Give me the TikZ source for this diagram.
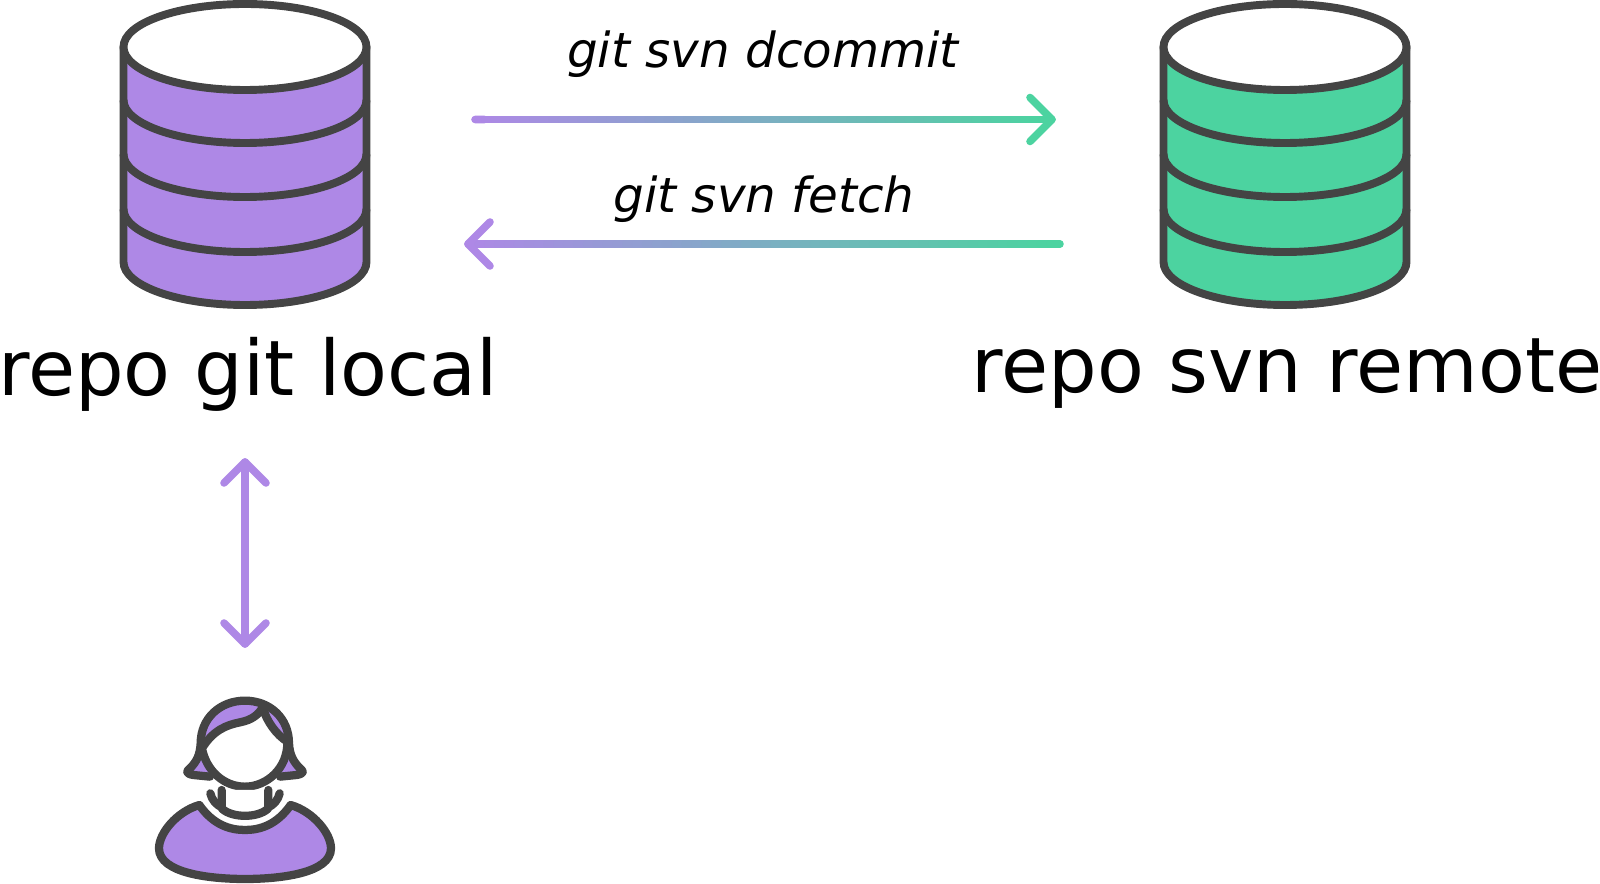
\documentclass[tikz,border=0pt]{standalone}
\usepackage{fontspec}
\setmainfont{DejaVu Sans}
\usetikzlibrary{calc}
\definecolor{dbpurple}{HTML}{AE88E6}
\definecolor{dbgreen}{HTML}{4CD3A0}
\definecolor{outline}{HTML}{444444}
\begin{document}
\begin{tikzpicture}[x=0.02cm, y=-0.02cm,
      dbline/.style={draw=outline, line width=4.5pt, line join=round},
      manline/.style={draw=outline, line width=4.7pt, line join=round, line cap=round},
      flow/.style={line width=4.3pt, line cap=round, line join=round},
      repolabel/.style={anchor=base, font=\fontsize{43.6}{44}\selectfont, inner sep=0pt},
      cmdlabel/.style={anchor=base, font=\fontsize{27.5}{27}\selectfont\itshape, inner sep=0pt}]
    \useasboundingbox (0,0) rectangle (1600,884);
    % both cylinders: x = centre of the stack, bands every 54 px
    \foreach \cx/\col in {245/dbpurple, 1285/dbgreen} {
      \begin{scope}[shift={(\cx,0)}]
        \path[dbline, fill=\col] (-121.5,47) -- (-121.5,262) arc[start angle=180, end angle=0, x radius=121.5, y radius=43] -- (121.5,47) -- cycle;
        \foreach \by in {100,154,209}
          \path[dbline] (-121.5,\by) arc[start angle=180, end angle=0, x radius=121.5, y radius=43];
        \path[dbline, fill=white] (0,47) ellipse[x radius=121.5, y radius=43];
      \end{scope}
    }
    \node[repolabel] (gitlabel) at (248,396) {repo git local};
    \node[repolabel] (svnlabel) at (1287,393) {repo svn remote};
    \node[cmdlabel] (dcommitlabel) at (763,68) {git svn dcommit};
    \node[cmdlabel] (fetchlabel) at (764,213) {git svn fetch};
    \coordinate (dcommittail) at (475,119.5);
    \coordinate (dcommittip) at (1052,119.5);
    \coordinate (fetchtip) at (468,244);
    \coordinate (fetchtail) at (1060,244);
    \coordinate (syncup) at (245,462);
    \coordinate (syncdown) at (245,644);
    % gradient shafts, purple end to green end, cut into short pieces
    \foreach \pend/\gend in {dcommittail/dcommittip, fetchtip/fetchtail} {
      \foreach \i in {0,...,59} {
        \pgfmathtruncatemacro{\mix}{100-\i*100/59}
        \draw[flow, draw=dbpurple!\mix!dbgreen] ($(\pend)!\i/60!(\gend)$) -- ($(\pend)!\i/60+1/60!(\gend)$);
      }
    }
    \draw[flow, draw=dbgreen] ($(dcommittip)+(-22,-22)$) -- (dcommittip) -- ($(dcommittip)+(-22,22)$);
    \draw[flow, draw=dbpurple] ($(fetchtip)+(22,-22)$) -- (fetchtip) -- ($(fetchtip)+(22,22)$);
    \draw[flow, draw=dbpurple] (syncup) -- (syncdown);
    \draw[flow, draw=dbpurple] ($(syncup)+(-21,21)$) -- (syncup) -- ($(syncup)+(21,21)$);
    \draw[flow, draw=dbpurple] ($(syncdown)+(-21,-21)$) -- (syncdown) -- ($(syncdown)+(21,-21)$);
    % person, traced in 3x crop units
    \begin{scope}[shift={(130,680)}, x=0.00667cm, y=-0.00667cm]
      \path[manline, fill=dbpurple] (240,290) -- (190,285) .. controls (165,281) and (170,272) .. (180,265) .. controls (200,245) and (210,225) .. (212,190) .. controls (212,115) and (270,62) .. (345,62) .. controls (420,62) and (477,115) .. (477,190) .. controls (479,225) and (490,245) .. (510,265) .. controls (520,272) and (525,281) .. (500,285) -- (450,290);
      \path[manline, fill=white] (216,205) .. controls (250,150) and (290,135) .. (330,127) .. controls (365,120) and (385,105) .. (398,82) .. controls (410,125) and (440,165) .. (472,185) .. controls (474,265) and (410,320) .. (345,320) .. controls (280,320) and (228,270) .. (216,205) -- cycle;
      \path[manline, fill=white] (275,330) -- (275,385) .. controls (305,415) and (385,415) .. (415,385) -- (415,330);
      \path[manline] (241,340) .. controls (245,360) and (260,375) .. (275,382);
      \path[manline] (449,340) .. controls (445,360) and (430,375) .. (415,382);
      \path[manline, fill=dbpurple] (208,375) .. controls (250,435) and (300,450) .. (345,450) .. controls (390,450) and (440,435) .. (482,375) .. controls (550,395) and (603,460) .. (603,505) .. controls (603,580) and (450,597) .. (345,597) .. controls (240,597) and (87,580) .. (87,505) .. controls (87,460) and (140,395) .. (208,375) -- cycle;
    \end{scope}
\end{tikzpicture}
\end{document}
